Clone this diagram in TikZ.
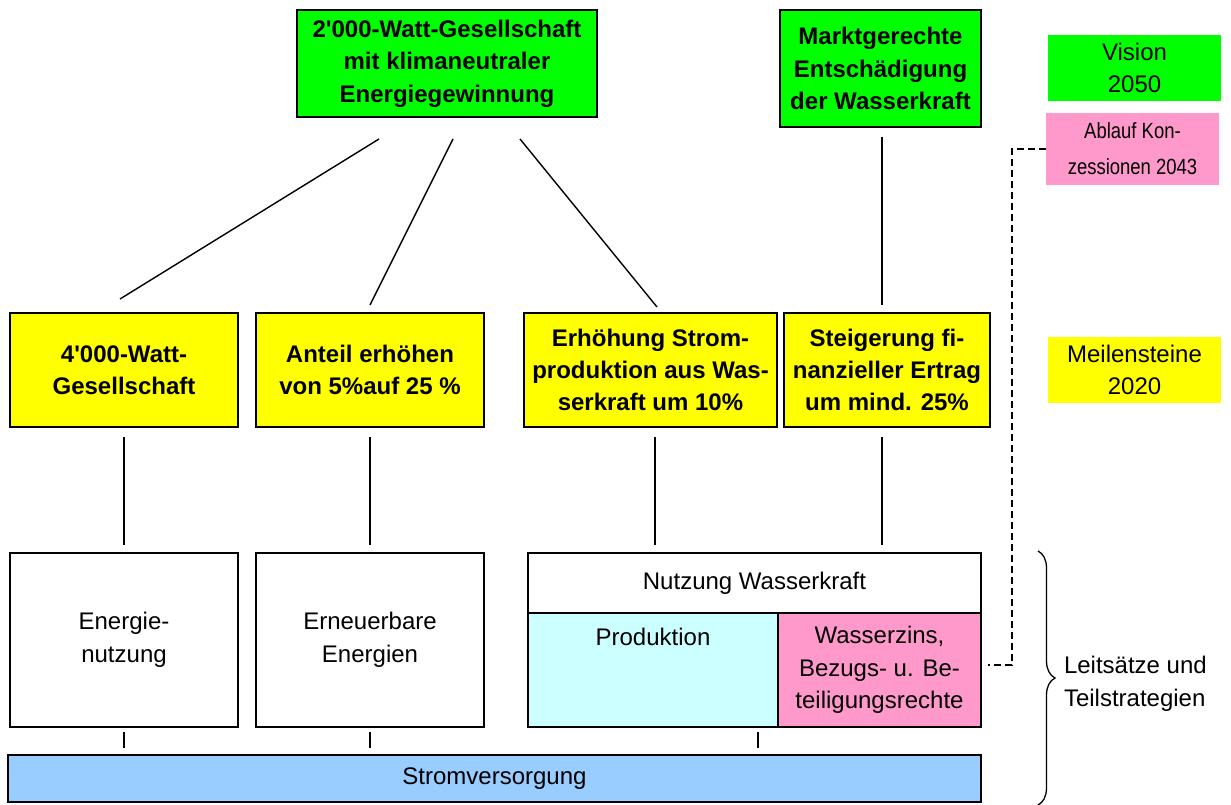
\documentclass[tikz,border=0pt]{standalone}
\usepackage{fontspec}
\setmainfont{Liberation Sans}
\newfontfamily\narrowfont[FakeStretch=0.84]{Liberation Sans}
\usetikzlibrary{calc,decorations.pathreplacing}

\definecolor{visiongreen}{RGB}{0,255,0}
\definecolor{milestoneyellow}{RGB}{255,255,0}
\definecolor{rightspink}{RGB}{255,153,204}
\definecolor{prodcyan}{RGB}{204,255,255}
\definecolor{supplyblue}{RGB}{153,204,255}

\tikzset{
  box/.style={draw=black, line width=1.6pt, inner sep=0pt, outer sep=0pt,
              align=center, font=\fontsize{24}{32.5}\selectfont},
  goalbox/.style={box, fill=visiongreen, font=\fontsize{24}{32.5}\selectfont\bfseries},
  stonebox/.style={box, fill=milestoneyellow, font=\fontsize{24}{32}\selectfont\bfseries},
  plainbox/.style={box, fill=white},
  legendbox/.style={inner sep=0pt, outer sep=0pt, align=center,
              font=\fontsize{24}{32.5}\selectfont},
  link/.style={line width=1.4pt},
}

\begin{document}
\begin{tikzpicture}[x=1pt,y=-1pt]
\useasboundingbox (0,0) rectangle (1231,805);

% vision level
\node[goalbox, minimum width=300, minimum height=107] (g1) at (447,63.5)
  {2\textquotesingle 000-Watt-Gesellschaft\\mit klimaneutraler\\Energiegewinnung};
\node[goalbox, minimum width=201, minimum height=117] (g2) at (880.5,68.5)
  {Marktgerechte\\Entschädigung\\der Wasserkraft};

% milestones
\node[stonebox, minimum width=228, minimum height=114] (y1) at (124,370)
  {4\textquotesingle 000-Watt-\\Gesellschaft};
\node[stonebox, minimum width=228, minimum height=114] (y2) at (370,370)
  {Anteil erhöhen\\von 5\%auf 25 \%};
\node[stonebox, minimum width=253, minimum height=114] (y3) at (650.5,370)
  {Erhöhung Strom-\\produktion aus Was-\\serkraft um 10\%};
\node[stonebox, minimum width=206, minimum height=114] (y4) at (887,370)
  {Steigerung fi-\\nanzieller Ertrag\\um mind. 25\%};

% guiding principles
\node[plainbox, minimum width=228, minimum height=174] (e1) at (124,640)
  {Energie-\\nutzung};
\node[plainbox, minimum width=228, minimum height=174] (e2) at (370,640)
  {Erneuerbare\\Energien};
\node[plainbox, minimum width=453, minimum height=60] (nw) at (754.5,583)
  {Nutzung Wasserkraft};
\node[box, fill=prodcyan, minimum width=250, minimum height=114] (prod) at (653,670) {};
\node[legendbox] (prodlbl) at (653,637) {Produktion};
\node[box, fill=rightspink, minimum width=203, minimum height=114] (wz) at (879.5,670)
  {Wasserzins,\\Bezugs- u. Be-\\teiligungsrechte};
\node[box, fill=supplyblue, minimum width=973, minimum height=47] (bar) at (494.5,778.5)
  {Stromversorgung};

% legend
\node[legendbox, fill=visiongreen, minimum width=173, minimum height=66] (lvis) at (1134.5,68)
  {Vision\\2050};
\node[legendbox, fill=rightspink, minimum width=173, minimum height=72,
      font=\narrowfont\fontsize{22}{36}\selectfont] (labl) at (1132.5,149)
  {Ablauf Kon-\\zessionen 2043};
\node[legendbox, fill=milestoneyellow, minimum width=173, minimum height=66] (lmei) at (1134.5,370)
  {Meilensteine\\2020};
\node[legendbox, align=left, anchor=west] (lleit) at (1064,684)
  {Leitsätze und\\Teilstrategien};

% vision -> milestones
\draw[link] ($(g1.south)+(-68,22)$) -- ($(y1.north)+(-4,-14)$);
\draw[link] ($(g1.south)+(6,22)$) -- ($(y2.north)+(0,-8)$);
\draw[link] ($(g1.south)+(73,22)$) -- ($(y3.north)+(6.5,-6)$);
\draw[link] ($(g2.south)+(1.5,10)$) -- ($(y4.north)+(-5,-8)$);

% milestones -> principles
\draw[link] ($(y1.south)+(0,10)$) -- ($(e1.north)+(0,-8)$);
\draw[link] ($(y2.south)+(0,10)$) -- ($(e2.north)+(0,-8)$);
\draw[link] ($(y3.south)+(4.5,10)$) -- ($(nw.north)+(-99.5,-8)$);
\draw[link] ($(y4.south)+(-5,10)$) -- ($(nw.north)+(127.5,-8)$);

% principles -> supply
\draw[link] ($(e1.south)+(0,5)$) -- ($(bar.north west)+(116,-7)$);
\draw[link] ($(e2.south)+(0,5)$) -- ($(bar.north west)+(362,-7)$);
\draw[link] ($(prod.south)+(105,5)$) -- ($(bar.north west)+(750,-7)$);

% concession expiry link
\draw[link, dash pattern=on 7pt off 4pt] (labl.west) -| ($(wz.east)+(31,-5)$) -- ($(wz.east)+(7,-5)$);

% brace round the principle level
\draw[line width=1.3pt, decorate, decoration={brace, amplitude=17pt}]
  (1038,551) -- (1038,805);
\end{tikzpicture}
\end{document}
